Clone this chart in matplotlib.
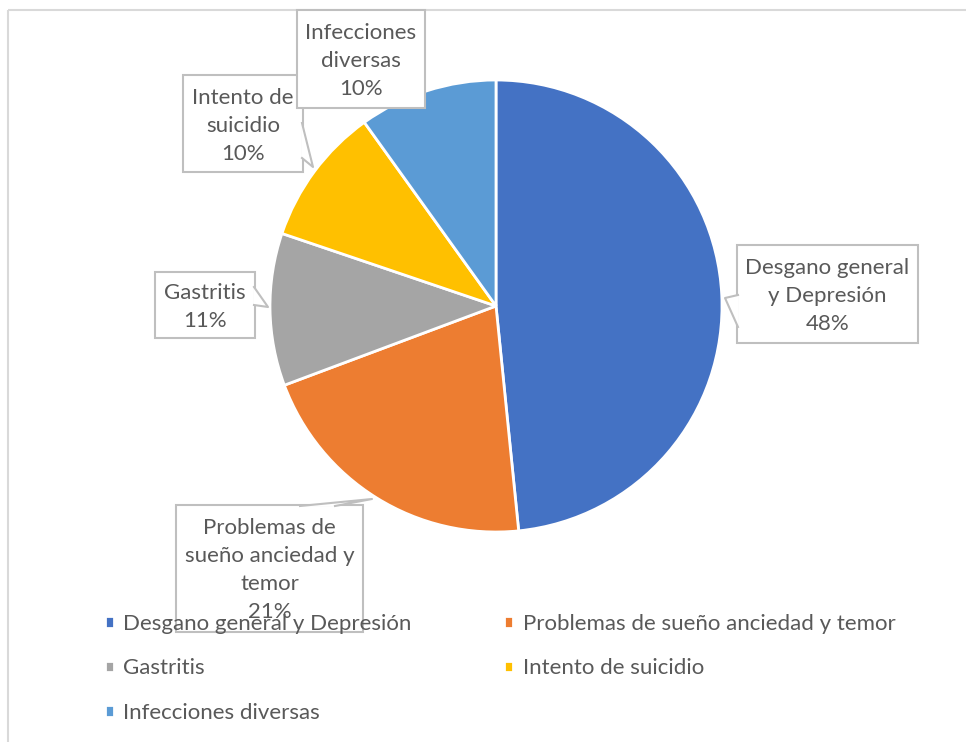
import matplotlib.pyplot as plt
from matplotlib.patches import Rectangle, Polygon

# Data
categories = ['Desgano general y Depresión', 'Problemas de sueño anciedad y temor',
              'Gastritis', 'Intento de suicidio', 'Infecciones diversas']
label_names = ['Desgano general\ny Depresión', 'Problemas de\nsueño anciedad y\ntemor',
               'Gastritis', 'Intento de\nsuicidio', 'Infecciones\ndiversas']
values = [48.4, 20.9, 10.9, 9.9, 9.9]
colors = ['#4472C4', '#ED7D31', '#A5A5A5', '#FFC000', '#5B9BD5']

# Layout (pixel coordinates, y downward)
W, H = 966, 742
CENTER = (496, 306)
RADIUS = 226
# label boxes as (x0, y0, x1, y1)
boxes = [(737, 245, 918, 343), (176, 505, 363, 632), (155, 272, 255, 338),
         (183, 75, 303, 172), (297, 10, 425, 108)]
# callout pointers: base point 1, tip, base point 2
pointers = [[(738, 295), (725, 298), (738, 327)],
            [(300, 506), (372, 499), (335, 506)],
            [(254, 287), (268, 307), (254, 305)],
            [(302, 123), (313, 167), (302, 158)],
            None]

TEXT_COLOR = '#595959'
EDGE = '#BFBFBF'
FS = 16
plt.rcParams['font.family'] = ['Lato', 'DejaVu Sans']

fig = plt.figure(figsize=(W / 100, H / 100), dpi=100)
ax = fig.add_axes([0, 0, 1, 1])

# counterclock in data coords becomes clockwise on screen because y is flipped
wedges, _ = ax.pie(values, colors=colors, center=CENTER, radius=RADIUS,
                   startangle=-90, counterclock=True,
                   wedgeprops=dict(edgecolor='white', linewidth=2))
ax.set_xlim(0, W)
ax.set_ylim(H, 0)
ax.axis('off')

# chart frame
ax.add_patch(Rectangle((8, 10), 1200, 1000, fill=False, edgecolor='#D9D9D9',
                       linewidth=1.5, zorder=0))

# callout labels
total = sum(values)
for i, (name, v, b, ptr) in enumerate(zip(label_names, values, boxes, pointers)):
    z = 5 + i * 0.1
    ax.add_patch(Rectangle((b[0], b[1]), b[2] - b[0], b[3] - b[1], fc='white',
                           ec=EDGE, lw=1.5, zorder=z))
    if ptr is not None:
        ax.add_patch(Polygon(ptr, closed=True, fc='white', ec='none', zorder=z + 0.01))
        ax.plot([p[0] for p in ptr], [p[1] for p in ptr], color=EDGE, lw=1.5,
                zorder=z + 0.02)
    cx, cy = (b[0] + b[2]) / 2, (b[1] + b[3]) / 2
    txt = f"{name}\n{round(v / total * 100):.0f}%"
    ax.text(cx, cy + 2, txt, ha='center', va='center', fontsize=FS, color=TEXT_COLOR,
            linespacing=1.5, zorder=z + 0.03)

# legend, filled row by row like the original
order = [0, 2, 4, 1, 3]
leg = ax.legend([wedges[i] for i in order], [categories[i] for i in order],
                ncol=2, loc='upper left', bbox_to_anchor=(105 / W, 1 - 614 / H),
                frameon=False, fontsize=FS, borderpad=0, borderaxespad=0,
                handlelength=0.4, handleheight=0.4, handletextpad=0.42,
                columnspacing=4.18, labelspacing=1.1, labelcolor=TEXT_COLOR)
leg.set_zorder(10)

fig.savefig('out.png', dpi=100)
